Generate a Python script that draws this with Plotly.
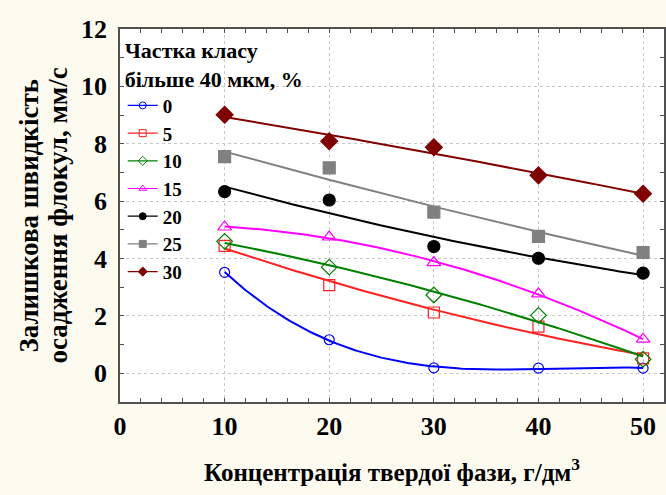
import numpy as np
import plotly.graph_objects as go

# Solid-phase concentration, g/dm3
conc = [10, 20, 30, 40, 50]

# Residual settling velocity of flocs (mm/s) for each share of the >40 um class
share_labels = ["0", "5", "10", "15", "20", "25", "30"]
v_0 = [3.52, 1.17, 0.19, 0.18, 0.18]
v_5 = [4.44, 3.07, 2.12, 1.63, 0.52]
v_10 = [4.60, 3.70, 2.73, 2.02, 0.49]
v_15 = [5.10, 4.75, 3.86, 2.77, 1.19]
v_20 = [6.33, 6.04, 4.42, 4.01, 3.49]
v_25 = [7.55, 7.16, 5.62, 4.77, 4.21]
v_30 = [9.01, 8.09, 7.88, 6.90, 6.26]

x_ticks = [0, 10, 20, 30, 40, 50]
y_ticks = [0, 2, 4, 6, 8, 10, 12]

series = [v_0, v_5, v_10, v_15, v_20, v_25, v_30]
fit_degree = [3, 2, 2, 2, 2, 2, 2]
colors = ["#0000FF", "#FF2020", "#008000", "#FF00FF", "#000000", "#808080", "#800000"]
symbols = ["circle-open", "square-open", "diamond-open", "triangle-up-open",
           "circle", "square", "diamond"]
sizes = [10, 11, 12, 12, 12, 12, 13]

FONT = "Liberation Serif"

fig = go.Figure()
xs = np.linspace(min(conc), max(conc), 200)
for lab, ys, deg, col, sym, sz in zip(share_labels, series, fit_degree, colors, symbols, sizes):
    coef = np.polyfit(conc, ys, deg)
    fig.add_trace(go.Scatter(x=xs, y=np.polyval(coef, xs), mode="lines",
                             line=dict(color=col, width=2), showlegend=False,
                             hoverinfo="skip"))
    fig.add_trace(go.Scatter(x=conc, y=ys, mode="markers", showlegend=False,
                             marker=dict(symbol=sym, size=sz, color=col,
                                         line=dict(color=col, width=1.2))))
    # legend entry: line with marker
    fig.add_trace(go.Scatter(x=[None], y=[None], mode="lines+markers", name=lab,
                             line=dict(color=col, width=1.2),
                             marker=dict(symbol=sym, size=7, color=col,
                                         line=dict(color=col, width=1))))

axis_common = dict(
    showline=True, linecolor="#505050", linewidth=1.5, mirror="allticks",
    ticks="inside", ticklen=4, tickcolor="#505050", tickwidth=1,
    showgrid=True, gridcolor="#c8c8c8", griddash="dot", gridwidth=1,
    zeroline=False,
    tickfont=dict(family=FONT, size=26, color="black", weight="bold"),
)

fig.update_xaxes(range=[0, 52], tickvals=x_ticks, ticktext=[str(t) for t in x_ticks],
                 minor=dict(dtick=2, tick0=0, ticks="inside", ticklen=4,
                            tickcolor="#505050", showgrid=False),
                 ticklabelstandoff=0, **axis_common)
fig.update_yaxes(range=[-1, 12], tickvals=y_ticks, ticktext=[str(t) for t in y_ticks],
                 minor=dict(dtick=1, tick0=0, ticks="inside", ticklen=4,
                            tickcolor="#505050", showgrid=False),
                 ticklabelstandoff=6, **axis_common)

y_title_lines = ["Залишкова швидкість", "осадження флокул, мм/с"]
y_title_x = [-0.169, -0.114]

annotations = [
    dict(text="<b>Концентрація твердої фази, г/дм<sup>3</sup></b>",
         xref="paper", yref="paper", x=0.5, y=-0.182,
         xanchor="center", yanchor="middle", showarrow=False,
         font=dict(family=FONT, size=25, color="black")),
]
for line, xp in zip(y_title_lines, y_title_x):
    annotations.append(dict(text=f"<b>{line}</b>", xref="paper", yref="paper",
                            x=xp, y=0.5, textangle=-90,
                            xanchor="center", yanchor="middle", showarrow=False,
                            font=dict(family=FONT, size=27, color="black")))

fig.update_layout(
    width=666, height=495,
    margin=dict(l=120, r=2, t=29, b=93, autoexpand=False),
    paper_bgcolor="#FDFAF0", plot_bgcolor="white",
    font=dict(family=FONT, color="black"),
    legend=dict(
        x=0.005, y=0.999, xanchor="left", yanchor="top",
        bgcolor="rgba(0,0,0,0)", borderwidth=0,
        title=dict(text="Частка класу<br>більше 40 мкм, %",
                   font=dict(family=FONT, size=22, weight="bold", color="black")),
        font=dict(family=FONT, size=19, weight="bold", color="black"),
        itemwidth=30, tracegroupgap=0,
    ),
    annotations=annotations,
)

fig.write_html("out.html")
